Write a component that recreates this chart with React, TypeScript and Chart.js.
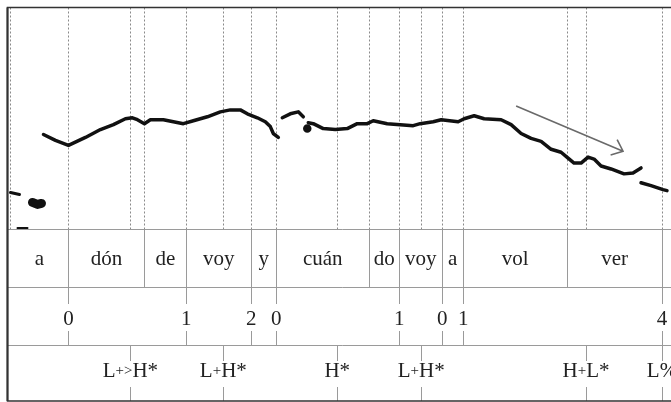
import React, { useEffect, useRef } from "react";
import { Chart, registerables } from "chart.js";

Chart.register(...registerables);

// time axis in ms, pitch in Hz
const T_MAX = 2010;
const F0_MIN = 75;
const F0_MAX = 300;

// pitch contour segments
const lowTimes = [9, 36];
const lowHz = [112, 110];
const blobTimes = [75, 90, 102];
const blobHz = [102, 100, 101];
const edgeTimes = [30, 60];
const edgeHz = [76, 76];

const seg1Times = [108, 144, 183, 234, 279, 318, 354, 375, 390, 411, 429, 468, 498, 528, 558, 600, 639, 669, 699, 720, 750, 774, 789, 798, 813];
const seg1Hz = [171, 165, 160, 168, 176, 181, 187, 188, 186, 182, 186, 186, 184, 182, 185, 189, 194, 196, 196, 192, 188, 184, 179, 172, 168];

const seg2Times = [825, 849, 873, 888];
const seg2Hz = [188, 192, 194, 189];

const dotTimes = [900];
const dotHz = [177];

const seg3Times = [903, 918, 948, 984, 1020, 1050, 1080, 1098, 1140, 1179, 1218, 1239, 1278, 1302, 1353, 1371, 1401, 1431, 1482, 1512, 1542, 1572, 1602, 1632, 1662, 1683, 1701, 1722, 1743, 1761, 1782, 1812, 1851, 1878, 1902];
const seg3Hz = [183, 182, 177, 176, 177, 182, 182, 185, 182, 181, 180, 182, 184, 186, 184, 187, 190, 187, 186, 181, 172, 167, 164, 156, 153, 147, 142, 142, 148, 146, 139, 136, 131, 132, 137];

const seg4Times = [1902, 1932, 1968, 1980];
const seg4Hz = [122, 119, 115, 114];

// annotation tiers
const wordBounds = [9, 183, 411, 537, 732, 807, 1086, 1176, 1305, 1368, 1680, 1965];
const words = ["a", "dón", "de", "voy", "y", "cuán", "do", "voy", "a", "vol", "ver"];
const breakTimes = [183, 537, 732, 807, 1176, 1305, 1368, 1965];
const breakLabels = ["0", "1", "2", "0", "1", "0", "1", "4"];
const toneTimes = [369, 648, 990, 1242, 1737, 1965];
const toneLabels = ["L+>H*", "L+H*", "H*", "L+H*", "H+L*", "L%"];
const dottedTimes = [9, 183, 369, 411, 537, 648, 732, 807, 990, 1086, 1176, 1242, 1305, 1368, 1680, 1737, 1965];

// downtrend arrow [ms, Hz]
const arrowFrom = [1527, 200];
const arrowTo = [1848, 154];

const pts = (ts: number[], hs: number[]) => ts.map((t, i) => ({ x: t, y: hs[i] }));

const FONT = '21px "Liberation Serif", "Times New Roman", serif';
const SMALL = '15px "Liberation Serif", "Times New Roman", serif';

// draw a tone label with smaller "+" / ">" glyphs, centred on cx
function drawTone(ctx: CanvasRenderingContext2D, label: string, cx: number, by: number) {
  const parts = label.split("").map((c) => ({ c, f: c === "+" || c === ">" ? SMALL : FONT }));
  let w = 0;
  parts.forEach((p) => {
    ctx.font = p.f;
    w += ctx.measureText(p.c).width;
  });
  let x = cx - w / 2;
  ctx.textAlign = "left";
  parts.forEach((p) => {
    ctx.font = p.f;
    ctx.fillText(p.c, x, p.f === SMALL ? by - 2 : by);
    x += ctx.measureText(p.c).width;
  });
  ctx.textAlign = "center";
  ctx.font = FONT;
}

const tiersPlugin = {
  id: "tiers",
  beforeDatasetsDraw(chart: any) {
    const ctx = chart.ctx;
    const x = chart.scales.x;
    const { top, bottom } = chart.chartArea;
    ctx.save();
    ctx.strokeStyle = "#8a8a8a";
    ctx.lineWidth = 1;
    ctx.setLineDash([2, 2]);
    dottedTimes.forEach((t) => {
      const px = Math.round(x.getPixelForValue(t)) + 0.5;
      ctx.beginPath();
      ctx.moveTo(px, top);
      ctx.lineTo(px, bottom);
      ctx.stroke();
    });
    ctx.restore();
  },
  afterDraw(chart: any) {
    const ctx = chart.ctx;
    const x = chart.scales.x;
    const y = chart.scales.y;
    const { left, right, top, bottom } = chart.chartArea;
    const t0 = bottom;
    const t1 = bottom + 58;
    const t2 = bottom + 116;
    const t3 = bottom + 172;
    const P = (t: number) => Math.round(x.getPixelForValue(t)) + 0.5;
    ctx.save();

    // arrow
    const ax0 = x.getPixelForValue(arrowFrom[0]);
    const ay0 = y.getPixelForValue(arrowFrom[1]);
    const ax1 = x.getPixelForValue(arrowTo[0]);
    const ay1 = y.getPixelForValue(arrowTo[1]);
    const ang = Math.atan2(ay1 - ay0, ax1 - ax0);
    ctx.strokeStyle = "#6a6a6a";
    ctx.lineWidth = 1.6;
    ctx.beginPath();
    ctx.moveTo(ax0, ay0);
    ctx.lineTo(ax1, ay1);
    ctx.moveTo(ax1 - 13 * Math.cos(ang - 0.7), ay1 - 13 * Math.sin(ang - 0.7));
    ctx.lineTo(ax1, ay1);
    ctx.lineTo(ax1 - 13 * Math.cos(ang + 0.7), ay1 - 13 * Math.sin(ang + 0.7));
    ctx.stroke();

    // tier separators
    ctx.strokeStyle = "#9a9a9a";
    ctx.lineWidth = 1;
    [t0, t1, t2].forEach((yy) => {
      ctx.beginPath();
      ctx.moveTo(left, yy + 0.5);
      ctx.lineTo(right, yy + 0.5);
      ctx.stroke();
    });

    // word boundaries
    wordBounds.slice(1).forEach((t) => {
      ctx.beginPath();
      ctx.moveTo(P(t), t0);
      ctx.lineTo(P(t), t1);
      ctx.stroke();
    });
    // break ticks
    breakTimes.forEach((t) => {
      ctx.beginPath();
      ctx.moveTo(P(t), t1);
      ctx.lineTo(P(t), t1 + 17);
      ctx.moveTo(P(t), t2 - 14);
      ctx.lineTo(P(t), t2);
      ctx.stroke();
    });
    // tone ticks
    toneTimes.forEach((t) => {
      ctx.beginPath();
      ctx.moveTo(P(t), t2);
      ctx.lineTo(P(t), t2 + 16);
      ctx.moveTo(P(t), t3 - 14);
      ctx.lineTo(P(t), t3);
      ctx.stroke();
    });

    // labels
    ctx.fillStyle = "#222";
    ctx.font = FONT;
    ctx.textAlign = "center";
    ctx.textBaseline = "alphabetic";
    words.forEach((w, i) => {
      const cx = (x.getPixelForValue(wordBounds[i]) + x.getPixelForValue(wordBounds[i + 1])) / 2;
      ctx.fillText(w, cx, t0 + 36);
    });
    breakLabels.forEach((l, i) => {
      ctx.fillText(l, x.getPixelForValue(breakTimes[i]), t1 + 38);
    });
    toneLabels.forEach((l, i) => {
      drawTone(ctx, l, x.getPixelForValue(toneTimes[i]), t2 + 32);
    });

    // frame
    ctx.strokeStyle = "#333";
    ctx.lineWidth = 1.5;
    ctx.beginPath();
    ctx.rect(left, top, right - left, t3 - top);
    ctx.stroke();
    ctx.lineWidth = 2;
    ctx.beginPath();
    ctx.moveTo(left, top);
    ctx.lineTo(left, t3);
    ctx.stroke();
    ctx.restore();
  },
};

export default function App() {
  const ref = useRef<HTMLCanvasElement | null>(null);
  useEffect(() => {
    if (!ref.current) return;
    const contour = {
      borderColor: "#111",
      backgroundColor: "#111",
      borderWidth: 3.5,
      pointRadius: 0,
      borderCapStyle: "round" as const,
      borderJoinStyle: "round" as const,
      tension: 0,
      fill: false,
    };
    const chart = new Chart(ref.current, {
      type: "line",
      data: {
        datasets: [
          { ...contour, data: pts(lowTimes, lowHz), borderWidth: 3 },
          { ...contour, data: pts(blobTimes, blobHz), borderWidth: 9 },
          { ...contour, data: pts(edgeTimes, edgeHz), borderWidth: 2 },
          { ...contour, data: pts(seg1Times, seg1Hz) },
          { ...contour, data: pts(seg2Times, seg2Hz) },
          { ...contour, data: pts(dotTimes, dotHz), pointRadius: 2.5, showLine: false },
          { ...contour, data: pts(seg3Times, seg3Hz) },
          { ...contour, data: pts(seg4Times, seg4Hz) },
        ],
      },
      options: {
        animation: false,
        responsive: false,
        devicePixelRatio: 1,
        layout: { padding: { left: 7, top: 4, right: 13, bottom: 173 } },
        plugins: { legend: { display: false }, tooltip: { enabled: false } },
        scales: {
          x: { type: "linear", min: 0, max: T_MAX, display: false },
          y: { type: "linear", min: F0_MIN, max: F0_MAX, display: false },
        },
      },
      plugins: [tiersPlugin],
    });
    return () => chart.destroy();
  }, []);
  return (
    <div style={{ position: "fixed", left: 0, top: 0, width: 671, height: 402, overflow: "hidden", background: "#fff" }}>
      <canvas ref={ref} width={690} height={402} style={{ display: "block" }} />
    </div>
  );
}
